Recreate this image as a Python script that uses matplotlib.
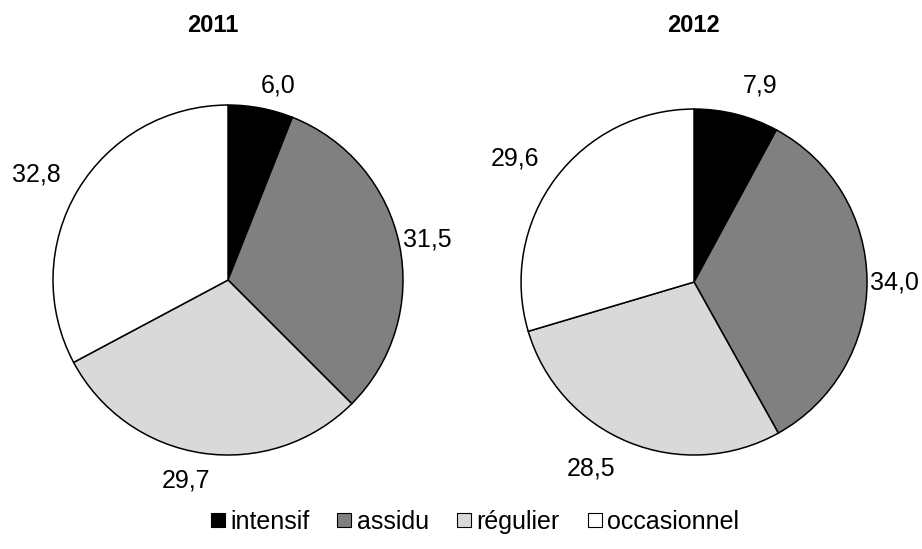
import numpy as np
import matplotlib.pyplot as plt

plt.rcParams['font.family'] = ['Liberation Sans', 'DejaVu Sans']

categories = ['intensif', 'assidu', 'régulier', 'occasionnel']
years = ['2011', '2012']
values_2011 = [6.0, 31.5, 29.7, 32.8]
values_2012 = [7.9, 34.0, 28.5, 29.6]
colors = ['#000000', '#808080', '#d9d9d9', '#ffffff']

# label placement tweaks: radius (fraction of pie radius) and angle shift (deg)
label_r = {'2011': [1.15, 1.16, 1.17, 1.25], '2012': [1.2, 1.16, 1.23, 1.26]}
label_da = {'2011': [-3.6, -0.3, -3.4, 2.0], '2012': [-4.4, -0.4, -6.8, 2.1]}

fig = plt.figure(figsize=(9.22, 5.49), dpi=100)
ax1 = fig.add_axes([0.2473 - 0.1898, 0.49 - 0.3188, 0.3796, 0.6375])
ax2 = fig.add_axes([0.7527 - 0.1876, 0.4863 - 0.3151, 0.3753, 0.6302])

for ax, year, vals in [(ax1, '2011', values_2011), (ax2, '2012', values_2012)]:
    wedges, _ = ax.pie(vals, colors=colors, startangle=90, counterclock=False,
                       wedgeprops=dict(edgecolor='black', linewidth=1.1))
    for w, v, r, da in zip(wedges, vals, label_r[year], label_da[year]):
        ang = np.deg2rad((w.theta1 + w.theta2) / 2 + da)
        ax.text(r * np.cos(ang), r * np.sin(ang), f'{v:.1f}'.replace('.', ','),
                ha='center', va='center', fontsize=18)
    ax.set_xlim(-1, 1)
    ax.set_ylim(-1, 1)
    ax.set_aspect('equal')
    ax.axis('off')

fig.text(0.231, 0.953, years[0], ha='center', va='center', fontsize=17,
         fontweight='bold')
fig.text(0.752, 0.953, years[1], ha='center', va='center', fontsize=17,
         fontweight='bold')

handles = [plt.Line2D([], [], marker='s', linestyle='none', markersize=10,
                      markerfacecolor=c, markeredgecolor='black', markeredgewidth=0.8)
           for c in colors]
fig.legend(handles, categories, loc='center', bbox_to_anchor=(0.512, 0.049), ncol=4,
           frameon=False, fontsize=18, handletextpad=0.0, columnspacing=0.9,
           handlelength=1.0, borderaxespad=0)

fig.savefig('out.png', dpi=100)
